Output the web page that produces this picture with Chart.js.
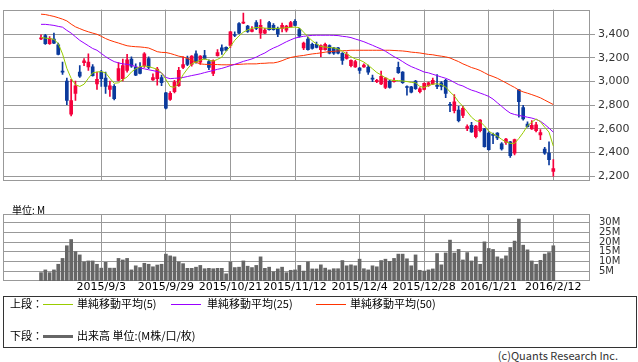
<!DOCTYPE html>
<html><head><meta charset="utf-8">
<script src="https://cdn.jsdelivr.net/npm/chart.js@4.4.0/dist/chart.umd.min.js"></script>
<style>
html,body{margin:0;padding:0;background:#fff;}
body{width:638px;height:362px;position:relative;overflow:hidden;font-family:"Noto Sans CJK JP","Noto Sans",sans-serif;color:#000;}
canvas{position:absolute;left:0;}
#c1{top:0;}
#c2{top:199px;}
.t{position:absolute;white-space:nowrap;font-size:11px;line-height:13px;}
.ln{position:absolute;height:1px;}
#box{position:absolute;left:3px;top:296px;width:632px;height:50px;border:1px solid #333;}
</style></head>
<body>
<canvas id="c1" width="638" height="191"></canvas>
<canvas id="c2" width="638" height="97"></canvas>
<div class="t" style="left:12px;top:203px;font-size:10px;">単位: M</div>
<div id="box"></div>
<div class="t" style="left:10px;top:297px;">上段：</div>
<div class="ln" style="left:43px;top:304px;width:30px;background:#99cc00;"></div>
<div class="t" style="left:77px;top:297px;">単純移動平均(5)</div>
<div class="ln" style="left:171px;top:304px;width:30px;background:#9900ff;"></div>
<div class="t" style="left:207px;top:297px;">単純移動平均(25)</div>
<div class="ln" style="left:316px;top:304px;width:30px;background:#ff3300;"></div>
<div class="t" style="left:350px;top:297px;">単純移動平均(50)</div>
<div class="t" style="left:10px;top:329px;">下段：</div>
<div class="ln" style="left:43px;top:335px;width:30px;height:3px;background:#666;"></div>
<div class="t" style="left:77px;top:329px;">出来高 単位:(M株/口/枚)</div>
<div class="t" style="right:20px;top:349px;color:#333;">(c)Quants Research Inc.</div>
<script>
const dates = ['2015/8/14','2015/8/17','2015/8/18','2015/8/19','2015/8/20','2015/8/21','2015/8/24','2015/8/25','2015/8/26','2015/8/27','2015/8/28','2015/8/31',
'2015/9/1','2015/9/2','2015/9/3','2015/9/4','2015/9/7','2015/9/8','2015/9/9','2015/9/10','2015/9/11','2015/9/14','2015/9/15','2015/9/16','2015/9/17','2015/9/18','2015/9/24','2015/9/25','2015/9/28','2015/9/29','2015/9/30',
'2015/10/1','2015/10/2','2015/10/5','2015/10/6','2015/10/7','2015/10/8','2015/10/9','2015/10/13','2015/10/14','2015/10/15','2015/10/16','2015/10/19','2015/10/20','2015/10/21','2015/10/22','2015/10/23','2015/10/26','2015/10/27','2015/10/28','2015/10/29','2015/10/30',
'2015/11/2','2015/11/4','2015/11/5','2015/11/6','2015/11/9','2015/11/10','2015/11/11','2015/11/12','2015/11/13','2015/11/16','2015/11/17','2015/11/18','2015/11/19','2015/11/20','2015/11/24','2015/11/25','2015/11/26','2015/11/27','2015/11/30',
'2015/12/1','2015/12/2','2015/12/3','2015/12/4','2015/12/7','2015/12/8','2015/12/9','2015/12/10','2015/12/11','2015/12/14','2015/12/15','2015/12/16','2015/12/17','2015/12/18','2015/12/21','2015/12/22','2015/12/24','2015/12/25','2015/12/28','2015/12/29','2015/12/30',
'2016/1/4','2016/1/5','2016/1/6','2016/1/7','2016/1/8','2016/1/12','2016/1/13','2016/1/14','2016/1/15','2016/1/18','2016/1/19','2016/1/20','2016/1/21','2016/1/22','2016/1/25','2016/1/26','2016/1/27','2016/1/28','2016/1/29',
'2016/2/1','2016/2/2','2016/2/3','2016/2/4','2016/2/5','2016/2/8','2016/2/9','2016/2/10','2016/2/12'];

const opens = [3360,3390,3320,3360,3310,3090,3005,2725,2900,3080, 3160,3125,3125,2980,3080,3030,2935,2960,3010,3025,
3095,3190,3120,3120,3135,3195,3015,3025,3035,2905, 2850,2915,2965,3120,3195,3145,3235,3165,3220,3170,
3070,3220,3285,3290,3305,3395,3490,3495,3470,3425, 3500,3410,3410,3500,3475,3450,3450,3435,3465,3510,
3440,3285,3360,3315,3315,3270,3270,3305,3285,3285, 3240,3195,3135,3125,3115,3125,3120,3030,3000,2980,
2950,3005,3000,3120,3080,2955,2955,3005,2915,2935, 2965,2980,2965,2990,3010,2805,2755,2760,2715,2605,
2630,2535,2585,2600,2565,2550,2565,2475,2485,2490, 2395,2930,2780,2640,2600,2585,2550,2430,2395,2240];
const highs = [3395,3400,3380,3410,3325,3165,3030,3020,3005,3135, 3195,3235,3145,3080,3095,3080,3005,2975,3160,3190,
3230,3210,3150,3160,3245,3210,3065,3120,3055,2910, 2915,3010,3120,3210,3215,3220,3260,3220,3265,3185,
3185,3270,3310,3295,3425,3420,3500,3580,3475,3465, 3515,3525,3450,3510,3490,3460,3495,3475,3510,3525,
3450,3335,3375,3325,3335,3310,3325,3310,3290,3290, 3245,3250,3185,3180,3120,3150,3140,3055,3020,3090,
3035,3010,3030,3165,3085,2965,2960,3010,2950,2990, 2995,3030,3060,3000,3020,2825,2890,2790,2790,2635,
2655,2630,2680,2605,2575,2565,2570,2485,2520,2495, 2515,2935,2800,2660,2670,2655,2595,2445,2490,2340];
const lows = [3355,3315,3315,3320,3225,3060,2805,2710,2840,3035, 3135,3095,3045,2935,2960,2900,2875,2845,3005,3005,
3080,3120,3050,3065,3120,3110,3010,2970,2965,2770, 2840,2905,2960,3110,3135,3130,3155,3145,3190,3100,
3050,3215,3230,3260,3290,3380,3405,3490,3415,3420, 3440,3365,3405,3435,3435,3380,3420,3420,3460,3470,
3375,3270,3265,3275,3285,3210,3265,3235,3230,3235, 3145,3190,3125,3120,3070,3120,3060,3000,2990,2975,
2940,2945,2995,3070,2985,2885,2905,2935,2905,2930, 2960,2975,2940,2930,2865,2745,2735,2660,2695,2585,
2570,2525,2575,2445,2420,2475,2510,2420,2470,2360, 2380,2700,2675,2615,2595,2575,2510,2385,2295,2200];
const closes = [3370,3320,3365,3325,3230,3080,2840,2840,2965,3045, 3175,3165,3050,3020,3025,2960,2965,2855,3110,3135,
3185,3130,3055,3070,3235,3120,3035,3105,2990,2775, 2900,2995,3095,3145,3145,3215,3165,3215,3195,3120,
3180,3245,3260,3265,3420,3390,3410,3500,3425,3440, 3450,3475,3435,3440,3440,3400,3475,3470,3500,3475,
3385,3325,3270,3280,3290,3305,3315,3240,3240,3240, 3180,3230,3180,3170,3095,3140,3080,3020,3010,3045,
3030,2950,3010,3075,2990,2950,2910,2940,2940,2985, 2990,3010,2960,2960,2900,2800,2830,2670,2775,2620,
2575,2625,2675,2450,2425,2545,2525,2430,2515,2375, 2510,2830,2685,2620,2630,2635,2570,2395,2340,2265];

const ma5 = [3374,3368,3364,3357,3322,3234,3112,3028,2974,2959, 2978,3028,3074,3081,3085,3074,3028,2986,2990,3016,
3039,3081,3108,3127,3132,3127,3116,3104,3074,3020, 2959,2951,2990,3058,3107,3150,3165,3181,3192,3181,
3173,3188,3207,3257,3298,3349,3387,3418,3437,3450, 3458,3456,3452,3450,3450,3450,3452,3456,3458,3461,
3456,3418,3379,3345,3318,3298,3292,3288,3285,3276, 3257,3234,3211,3192,3183,3165,3139,3108,3077,3056,
3032,3016,3009,3009,3005,3001,2993,2990,2959,2951, 2967,2978,2982,2974,2955,2913,2879,2829,2791,2745,
2699,2669,2661,2627,2581,2558,2539,2512,2489,2478, 2478,2520,2569,2627,2657,2684,2661,2615,2573,2455];
const ma25 = [3484,3484,3480,3475,3467,3460,3433,3410,3379,3349, 3326,3303,3280,3265,3238,3211,3188,3169,3158,3150,
3146,3139,3127,3116,3108,3100,3093,3085,3074,3035, 3025,3028,3030,3035,3043,3051,3058,3066,3076,3085,
3094,3104,3112,3123,3135,3146,3158,3171,3181,3192, 3207,3226,3242,3265,3284,3299,3318,3337,3353,3368,
3376,3383,3387,3391,3392,3392,3392,3392,3391,3389, 3383,3379,3372,3360,3349,3337,3322,3307,3291,3276,
3257,3234,3211,3192,3169,3146,3127,3112,3097,3081, 3074,3062,3051,3039,3028,3013,2993,2974,2963,2944,
2928,2917,2903,2890,2875,2852,2821,2791,2760,2734, 2722,2714,2707,2699,2692,2680,2665,2638,2607,2573];
const ma50 = [3570,3567,3559,3551,3540,3528,3513,3486,3463,3448, 3433,3421,3410,3400,3383,3364,3349,3337,3326,3314,
3303,3298,3295,3293,3289,3284,3269,3253,3247,3246, 3238,3227,3215,3209,3196,3181,3162,3150,3146,3145,
3145,3144,3142,3142,3142,3144,3146,3148,3150,3150, 3150,3154,3155,3158,3158,3165,3177,3192,3204,3211,
3217,3221,3228,3234,3238,3243,3249,3253,3256,3259, 3261,3262,3265,3265,3265,3265,3265,3265,3265,3265,
3265,3265,3263,3261,3259,3255,3249,3246,3242,3236, 3230,3227,3220,3215,3209,3200,3184,3169,3150,3135,
3119,3108,3094,3075,3056,3043,3028,3009,2990,2970, 2951,2928,2913,2902,2890,2877,2863,2844,2825,2806];

const volumes = [4.3,5.7,4.3,5.7,8.6,11.6,18.1,21.3,15.1,13.4, 9.8,10.3,10.3,8.6,6.6,9.6,6.6,6.6,11.6,10.8,
11.6,5.7,7.8,6.9,9.1,8.6,7.3,8.2,8.6,13.8, 12.9,12.4,9.8,8.9,6.5,6.5,7.1,8.0,6.3,6.5,
6.3,6.5,6.5,3.7,9.8,6.9,7.1,10.3,7.6,6.9, 8.0,12.4,6.5,7.1,4.7,6.2,7.1,4.3,5.5,5.7,
8.0,5.1,9.8,6.2,6.2,8.3,6.6,5.7,6.3,6.3, 10.5,7.8,8.3,7.8,11.2,6.3,5.7,7.8,7.3,10.5,
11.2,10.1,11.6,13.8,13.8,11.4,7.8,13.4,5.5,5.1, 5.7,6.2,14.1,8.3,14.4,21.0,14.4,16.2,10.8,14.6,
10.3,12.4,8.6,20.1,16.7,16.2,12.4,11.4,12.9,17.2, 20.5,31.8,18.4,16.0,10.3,8.6,10.6,13.8,14.6,18.1];

const dateTicks = ['2015/9/3','2015/9/29','2015/10/21','2015/11/12','2015/12/4','2015/12/28','2016/1/21','2016/2/12'];
const priceTicks = [2200,2400,2600,2800,3000,3200,3400];
const volTicks = [5,10,15,20,25,30];

const idx = dates.map((d,i)=>i);
const tickIdx = dateTicks.map(d=>dates.indexOf(d));
const XMIN = -8.83, XMAX = 127.52;
const RED = '#f5003c', BLUE = '#0b3a9c', GRID = '#999';
const isUp = i => closes[i] >= opens[i];
const candleColor = ctx => isUp(ctx.dataIndex) ? RED : BLUE;

const frame = {id:'frame', beforeDatasetsDraw(chart){
  const {ctx, chartArea:a} = chart;
  ctx.save(); ctx.strokeStyle = GRID; ctx.lineWidth = 1;
  const l = Math.round(a.left)+0.5, t = Math.round(a.top)+0.5, r = Math.round(a.right)-0.5, b = Math.round(a.bottom)-0.5;
  ctx.strokeRect(l, t, r-l, b-t); ctx.restore();
}};

const xCommon = (showLabels) => ({
  type:'linear', min:XMIN, max:XMAX, offset:false,
  afterBuildTicks: s => { s.ticks = tickIdx.map(v=>({value:v})); },
  ticks: showLabels ? {display:true, autoSkip:false, maxRotation:0, padding:0, color:'#000',
      font:{family:'DejaVu Sans', size:11}, callback: v => dates[v]} : {display:false},
  grid:{color:GRID, drawTicks:false, offset:false},
  border:{display:false},
  afterFit: s => { s.height = showLabels ? 15 : 0; }
});

const line = (arr, color) => ({type:'line', data: idx.map(i=>({x:i, y:arr[i]})), borderColor:color, borderWidth:1,
  pointRadius:0, tension:0, order:0});

new Chart(document.getElementById('c1'), {
  type:'bar',
  data:{datasets:[
    line(ma5, '#99cc00'),
    line(ma25, '#9900ff'),
    line(ma50, '#ff3300'),
    {type:'bar', data: idx.map(i=>({x:i, y:[opens[i], closes[i]]})), backgroundColor:candleColor,
      barThickness:3, grouped:false, minBarLength:1, order:1},
    {type:'bar', data: idx.map(i=>({x:i, y:[lows[i], highs[i]]})), backgroundColor:candleColor,
      barThickness:1, grouped:false, order:2}
  ]},
  options:{
    responsive:false, animation:false, devicePixelRatio:1,
    layout:{padding:{left:3, top:1, right:0, bottom:0}},
    plugins:{legend:{display:false}, tooltip:{enabled:false}},
    scales:{
      x: xCommon(false),
      y:{type:'linear', position:'right', min:2156.5, max:3608.7,
        afterBuildTicks: s => { s.ticks = priceTicks.map(v=>({value:v})); },
        ticks:{autoSkip:false, callback: v => v.toLocaleString('en-US'), font:{family:'DejaVu Sans', size:11}, color:'#333', padding:3},
        grid:{color:GRID, tickLength:5, drawTicks:true},
        border:{display:false},
        afterFit: s => { s.width = 48; }
      }
    }
  },
  plugins:[frame]
});

new Chart(document.getElementById('c2'), {
  type:'bar',
  data:{datasets:[
    {data: idx.map(i=>({x:i, y:volumes[i]})), backgroundColor:'#666', barThickness:3, grouped:false}
  ]},
  options:{
    responsive:false, animation:false, devicePixelRatio:1,
    layout:{padding:{left:3, top:3, right:0, bottom:0}},
    plugins:{legend:{display:false}, tooltip:{enabled:false}},
    scales:{
      x: xCommon(true),
      y:{type:'linear', position:'right', min:0, max:34.4,
        afterBuildTicks: s => { s.ticks = volTicks.map(v=>({value:v})); },
        ticks:{autoSkip:false, callback: v => v + 'M', font:{family:'DejaVu Sans', size:10}, color:'#333', padding:9},
        grid:{color:GRID, drawTicks:false},
        border:{display:false},
        afterFit: s => { s.width = 48; }
      }
    }
  },
  plugins:[frame]
});
</script>
</body></html>
